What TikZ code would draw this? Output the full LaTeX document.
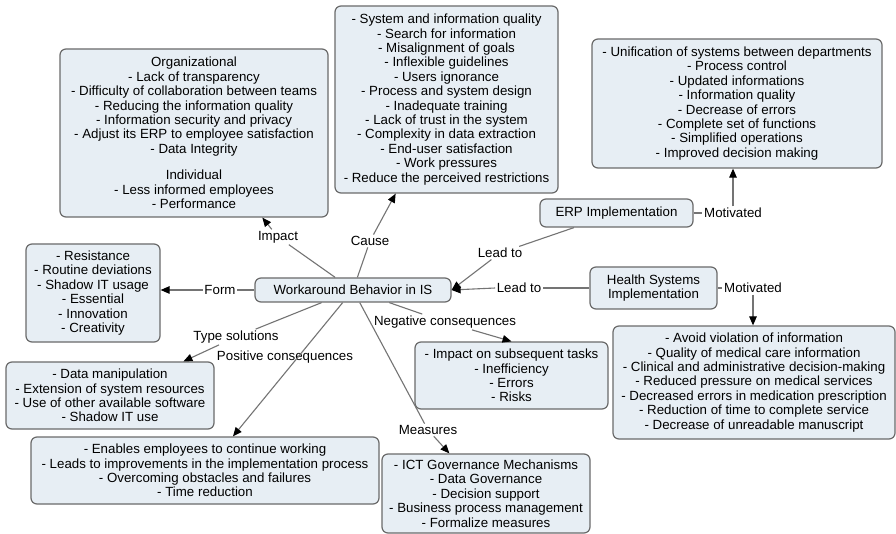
\documentclass[tikz,border=0pt]{standalone}
\usepackage{fontspec}
\setmainfont{Liberation Sans}
\usetikzlibrary{arrows.meta}
\definecolor{boxfill}{HTML}{E7EEF4}
\definecolor{boxline}{HTML}{6A6A6A}
\definecolor{linkline}{HTML}{747474}
\newcommand\fsz{\fontsize{13.3}{14.4}\selectfont}
\tikzset{
 cbox/.style={draw=boxline, fill=boxfill, line width=1.2pt, rounded corners=6pt, align=center, inner sep=0pt, font=\fsz},
 lbl/.style={inner sep=1.5pt, font=\fsz},
 link/.style={draw=linkline, line width=1.1pt},
 arr/.style={link, -{Triangle[length=9pt,width=7.5pt,color=black]}},
}
\begin{document}
\begin{tikzpicture}[x=1pt,y=-1pt]
\useasboundingbox[fill=white] (0,0) rectangle (896,534);
% boxes
\node[cbox, minimum width=268pt, minimum height=168pt] (org) at (194,133) {Organizational\\- Lack of transparency\\- Difficulty of collaboration between teams\\- Reducing the information quality\\- Information security and privacy\\- Adjust its ERP to employee satisfaction\\- Data Integrity\\[12pt]Individual\\- Less informed employees\\- Performance};
\node[cbox, minimum width=223pt, minimum height=187pt] (cause) at (446.5,99.5) {- System and information quality\\- Search for information\\- Misalignment of goals\\- Inflexible guidelines\\- Users ignorance\\- Process and system design\\- Inadequate training\\- Lack of trust in the system\\- Complexity in data extraction\\- End-user satisfaction\\- Work pressures\\- Reduce the perceived restrictions};
\node[cbox, minimum width=290pt, minimum height=129pt] (erpmot) at (737,103.5) {- Unification of systems between departments\\- Process control\\- Updated informations\\- Information quality\\- Decrease of errors\\- Complete set of functions\\- Simplified operations\\- Improved decision making};
\node[cbox, minimum width=153pt, minimum height=28pt] (erp) at (616.5,213) {ERP Implementation};
\node[cbox, minimum width=127pt, minimum height=42pt] (health) at (653.5,288) {Health Systems\\Implementation};
\node[cbox, minimum width=282pt, minimum height=113pt] (healthmot) at (754,382.5) {- Avoid violation of information\\- Quality of medical care information\\- Clinical and administrative decision-making\\- Reduced pressure on medical services\\- Decreased errors in medication prescription\\- Reduction of time to complete service\\- Decrease of unreadable manuscript};
\node[cbox, minimum width=134pt, minimum height=98pt] (resist) at (93,293) {- Resistance\\- Routine deviations\\- Shadow IT usage\\- Essential\\- Innovation\\- Creativity};
\node[cbox, minimum width=196pt, minimum height=24pt] (central) at (353,290) {Workaround Behavior in IS};
\node[cbox, minimum width=208pt, minimum height=67pt] (data) at (110,395.5) {- Data manipulation\\- Extension of system resources\\- Use of other available software\\- Shadow IT use};
\node[cbox, minimum width=348pt, minimum height=67pt] (pos) at (205,470.5) {- Enables employees to continue working\\- Leads to improvements in the implementation process\\- Overcoming obstacles and failures\\- Time reduction};
\node[cbox, minimum width=193pt, minimum height=67pt] (neg) at (511.5,375.5) {- Impact on subsequent tasks\\- Inefficiency\\- Errors\\- Risks};
\node[cbox, minimum width=208pt, minimum height=79pt] (ict) at (486,493.5) {- ICT Governance Mechanisms\\- Data Governance\\- Decision support\\- Business process management\\- Formalize measures};
% labels
\node[lbl] (impactlbl) at (278,237) {Impact};
\node[lbl] (causelbl) at (370,241) {Cause};
\node[lbl] (formlbl) at (220,290) {Form};
\node[lbl] (typelbl) at (236,337) {Type solutions};
\node[lbl] (poslbl) at (285,357) {Positive consequences};
\node[lbl] (neglbl) at (445,322) {Negative consequences};
\node[lbl] (measlbl) at (428,430) {Measures};
\node[lbl] (leadlbl1) at (500,253) {Lead to};
\node[lbl] (leadlbl2) at (519,288) {Lead to};
\node[lbl] (motlbl1) at (733,213) {Motivated};
\node[lbl] (motlbl2) at (753,288) {Motivated};
% connectors
\draw[link] (central) -- (impactlbl);
\draw[arr] (impactlbl) -- (org);
\draw[link] (central) -- (causelbl);
\draw[arr] (causelbl) -- (cause);
\draw[link] (central.west) -- (formlbl.east);
\draw[arr] (formlbl.west) -- (formlbl.west -| resist.east);
\draw[link] (central) -- (typelbl);
\draw[arr] (typelbl) -- (data);
\draw[arr] (central) -- (pos);
\draw[link] (central) -- (neglbl);
\draw[arr] (neglbl) -- (neg.north);
\draw[link] (central) -- (measlbl);
\draw[arr] (measlbl) -- (ict);
\draw[link] (erp) -- (leadlbl1);
\draw[arr] (leadlbl1) -- (central.east);
\draw[link] (health.west |- leadlbl2) -- (leadlbl2.east);
\draw[arr] (leadlbl2.west) -- (central.east);
\draw[link] (erp.east) -- (motlbl1.west);
\draw[arr] (motlbl1.north) -- (motlbl1.north |- erpmot.south);
\draw[link] (health.east) -- (motlbl2.west);
\draw[arr] (motlbl2.south) -- (motlbl2.south |- healthmot.north);
\end{tikzpicture}
\end{document}
